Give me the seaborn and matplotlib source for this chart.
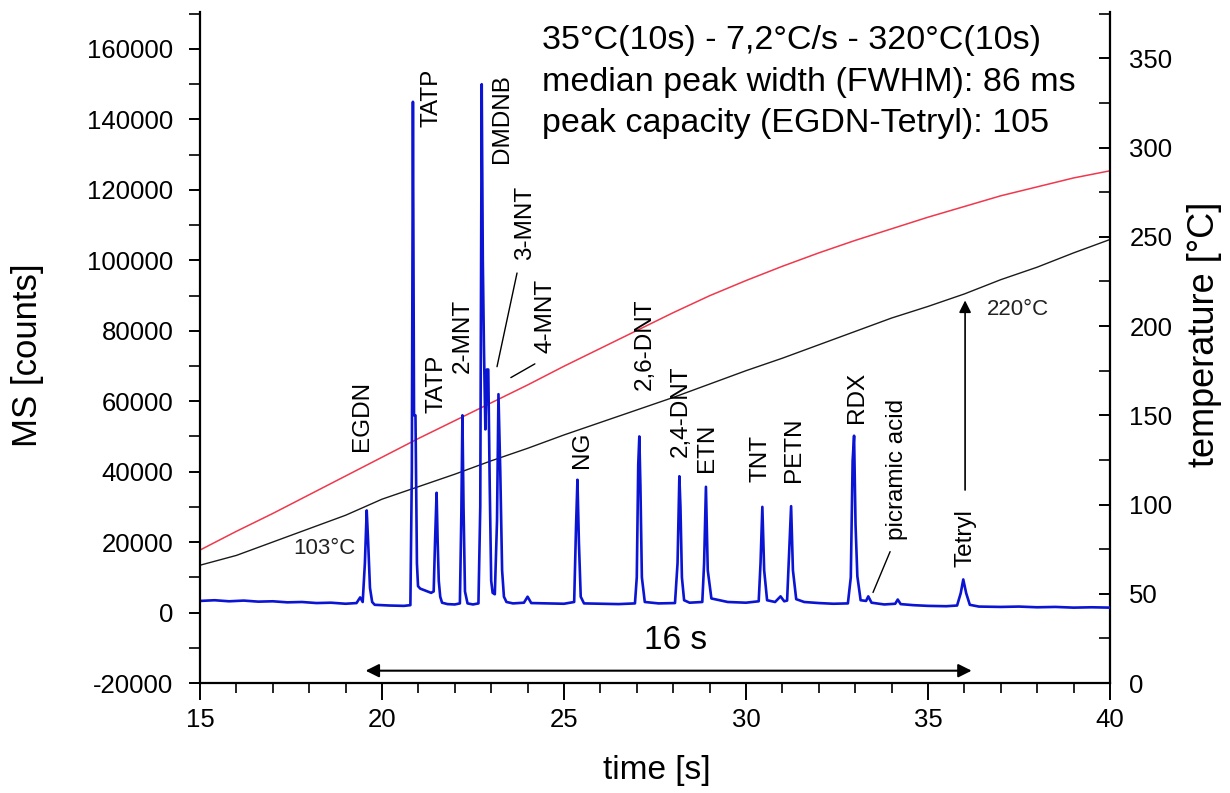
import pandas as pd
import matplotlib.pyplot as plt
import seaborn as sns
import matplotlib.ticker as ticker

# ---- data ----
ms_time = [15.0, 15.4, 15.8, 16.2, 16.6, 17.0, 17.4, 17.8, 18.2, 18.6, 19.0, 19.3, 19.4, 19.47,
           19.53, 19.58, 19.62, 19.67, 19.73, 19.8, 20.2, 20.6, 20.78, 20.82, 20.85, 20.88, 20.92,
           20.96, 20.99, 21.05, 21.2, 21.35, 21.42, 21.46, 21.5, 21.53, 21.56, 21.6, 21.65, 21.8,
           22.0, 22.14, 22.18, 22.21, 22.24, 22.28, 22.35, 22.5, 22.65, 22.7, 22.74, 22.77, 22.8,
           22.84, 22.88, 22.92, 22.96, 23.0, 23.04, 23.1, 23.16, 23.2, 23.25, 23.3, 23.35, 23.42,
           23.6, 23.9, 24.0, 24.1, 24.5, 25.0, 25.28, 25.33, 25.37, 25.41, 25.46, 25.55, 26.0,
           26.5, 26.95, 27.0, 27.04, 27.07, 27.1, 27.14, 27.22, 27.6, 28.05, 28.12, 28.17, 28.2,
           28.24, 28.3, 28.45, 28.8, 28.85, 28.9, 28.95, 29.05, 29.5, 30.0, 30.35, 30.4, 30.45,
           30.5, 30.58, 30.8, 30.95, 31.05, 31.13, 31.19, 31.24, 31.29, 31.38, 31.6, 32.0, 32.4,
           32.8, 32.88, 32.93, 32.97, 33.01, 33.06, 33.15, 33.3, 33.36, 33.45, 33.8, 34.1, 34.17,
           34.25, 34.6, 35.0, 35.5, 35.8, 35.9, 35.97, 36.05, 36.15, 36.4, 37.0, 37.5, 38.0, 38.5,
           39.0, 39.5, 40.0]
ms_counts = [3300, 3500, 3200, 3400, 3100, 3200, 2900, 3000, 2700, 2800, 2500, 2700, 4300, 3000,
             14000, 29000, 20000, 7000, 3000, 2200, 2000, 1900, 2100, 40000, 145000, 56000, 56000,
             14000, 7500, 6800, 6200, 5600, 6000, 21000, 34000, 20000, 9000, 4500, 2800, 2400,
             2300, 2600, 28000, 56000, 30000, 6000, 2600, 2300, 2600, 30000, 150000, 100000, 76000,
             52000, 69000, 69000, 36000, 9000, 5600, 5200, 26000, 62000, 40000, 12000, 4500, 3000,
             2600, 2800, 4500, 2700, 2600, 2500, 3000, 24000, 37700, 20000, 4500, 2600, 2500,
             2400, 2600, 10000, 42000, 50000, 36000, 10000, 3000, 2600, 2700, 14000, 38700, 30000,
             10000, 3500, 2800, 3000, 14000, 35700, 12000, 4000, 3000, 2800, 3200, 14000, 30000,
             12000, 3500, 3000, 4600, 3200, 3400, 18000, 30200, 12000, 3800, 3000, 2700, 2500,
             2600, 10000, 43000, 50200, 25000, 10300, 3500, 3300, 4600, 2800, 2300, 2500, 3700,
             2400, 2100, 1900, 1800, 2000, 5500, 9400, 5500, 2200, 1700, 1600, 1700, 1500, 1600,
             1400, 1500, 1400]

temp_time = [15, 16, 17, 18, 19, 20, 21, 22, 23, 24, 25, 26, 27, 28, 29, 30, 31, 32, 33, 34,
             35, 36, 37, 38, 39, 40]
temp_red = [74.5, 85, 95, 105.5, 116, 126.5, 137, 147, 157, 167, 177.5, 187.5, 197.5, 207.5,
            217, 225.5, 233.5, 241, 248, 254.5, 261, 267, 273, 278, 283, 287]
temp_black = [66, 71.5, 79, 86.5, 94, 103, 110, 117, 124.5, 131.5, 139, 146, 153, 160, 167.5,
              175, 182, 189.5, 197, 204.5, 211, 218, 226, 233, 241, 248.5]

peak_names = ['EGDN', 'TATP', 'TATP', '2-MNT', 'DMDNB', '3-MNT', '4-MNT', 'NG', '2,6-DNT',
              '2,4-DNT', 'ETN', 'TNT', 'PETN', 'RDX', 'picramic acid', 'Tetryl']
peak_label_x = [19.45, 21.37, 21.51, 22.22, 23.30, 23.93, 24.48, 25.49, 27.22, 28.21, 28.93,
                30.41, 31.32, 33.05, 34.15, 36.04]
peak_label_y = [45800, 137900, 56700, 68000, 127700, 100100, 73800, 41100, 63300, 44300, 40000,
                37200, 37200, 53900, 20700, 13000]

header_lines = ['35°C(10s) - 7,2°C/s - 320°C(10s)',
                'median peak width (FWHM): 86 ms',
                'peak capacity (EGDN-Tetryl): 105']

ms_df = pd.DataFrame({'time': ms_time, 'counts': ms_counts})
temp_df = pd.DataFrame({'time': temp_time, 'red': temp_red, 'black': temp_black})

sns.set_theme(style="ticks")
plt.rcParams['font.family'] = ['Liberation Sans', 'DejaVu Sans']
plt.rcParams['axes.unicode_minus'] = False
plt.rcParams['text.color'] = 'black'
plt.rcParams['axes.labelcolor'] = 'black'
plt.rcParams['xtick.color'] = 'black'
plt.rcParams['ytick.color'] = 'black'

fig = plt.figure(figsize=(12.3, 7.93), dpi=100)
ax = fig.add_axes([0.1626, 0.1387, 0.7398, 0.8462])
ax2 = ax.twinx()

# temperature traces on the right axis
sns.lineplot(data=temp_df, x='time', y='red', ax=ax2, color='#f0384c', linewidth=1.1,
             estimator=None, sort=False)
sns.lineplot(data=temp_df, x='time', y='black', ax=ax2, color='#1a1a1a', linewidth=1.0,
             estimator=None, sort=False)

# MS trace on top
sns.lineplot(data=ms_df, x='time', y='counts', ax=ax, color='#0a14d2', linewidth=1.9,
             estimator=None, sort=False)
ax.set_zorder(ax2.get_zorder() + 1)
ax.patch.set_visible(False)

ax.set_xlim(15, 40)
ax.set_ylim(-20000, 170500)
ax2.set_ylim(0, 376)

ax.xaxis.set_major_locator(ticker.MultipleLocator(5))
ax.xaxis.set_minor_locator(ticker.MultipleLocator(1))
ax.yaxis.set_major_locator(ticker.MultipleLocator(20000))
ax.yaxis.set_minor_locator(ticker.MultipleLocator(10000))
ax.yaxis.set_major_formatter(ticker.FuncFormatter(lambda v, _: f'{int(v)}'))
ax2.yaxis.set_major_locator(ticker.MultipleLocator(50))
ax2.yaxis.set_minor_locator(ticker.MultipleLocator(25))
ax2.yaxis.set_major_formatter(ticker.FuncFormatter(lambda v, _: f'{int(v)}'))

ax.tick_params(axis='x', which='major', direction='out', length=12, width=1.4, labelsize=18.5, pad=6)
ax.tick_params(axis='x', which='minor', direction='out', length=7, width=1.2)
ax.tick_params(axis='y', which='major', direction='out', length=8, width=1.4, labelsize=18.5, pad=11)
ax.tick_params(axis='y', which='minor', direction='out', length=8, width=1.2)
ax2.tick_params(axis='y', which='major', direction='in', length=8, width=1.4, labelsize=18.5, pad=14)
ax2.tick_params(axis='y', which='minor', direction='in', length=8, width=1.2)

for a in (ax, ax2):
    a.spines['top'].set_visible(False)
    for s in a.spines.values():
        s.set_linewidth(1.6)
        s.set_color('black')
ax.spines['right'].set_visible(False)
ax2.spines['left'].set_visible(False)
ax2.spines['bottom'].set_visible(False)

ax.set_xlabel('time [s]', fontsize=24)
ax.set_ylabel('MS [counts]', fontsize=25)
ax2.set_ylabel('temperature [°C]', fontsize=26)
ax.xaxis.label.set_va('center')
ax.xaxis.set_label_coords(0.502, -0.13)
ax.yaxis.label.set_va('center')
ax.yaxis.set_label_coords(-0.19, 0.489)
ax2.yaxis.label.set_va('center')
ax2.yaxis.set_label_coords(1.104, 0.519)

# peak labels
for name, x, y in zip(peak_names, peak_label_x, peak_label_y):
    ax.text(x, y, name, rotation=90, ha='center', va='bottom', fontsize=17.5)

# leader lines
ax.plot([23.16, 23.71], [69800, 96400], color='black', lw=1.0)
ax.plot([23.54, 24.20], [66700, 70600], color='black', lw=1.0)
ax.plot([33.49, 33.96], [5700, 17300], color='black', lw=1.0)

# header text
for i, line in enumerate(header_lines):
    ax.text(24.40, 162300 - i * 11700, line, ha='left', va='center', fontsize=24.5)

ax.text(18.43, 18200, '103°C', ha='center', va='center', fontsize=16, color='#222222')
ax.text(37.46, 86000, '220°C', ha='center', va='center', fontsize=16, color='#222222')

ax.annotate('', xy=(36.02, 89400), xytext=(36.02, 34000),
            arrowprops=dict(arrowstyle='-|>', color='black', lw=1.2, mutation_scale=18))
ax.annotate('', xy=(19.55, -16500), xytext=(36.2, -16500),
            arrowprops=dict(arrowstyle='<|-|>', color='black', lw=1.5, mutation_scale=20,
                            shrinkA=0, shrinkB=0))
ax.text(28.07, -8000, '16 s', ha='center', va='center', fontsize=24)

fig.savefig('out.png', dpi=100)
